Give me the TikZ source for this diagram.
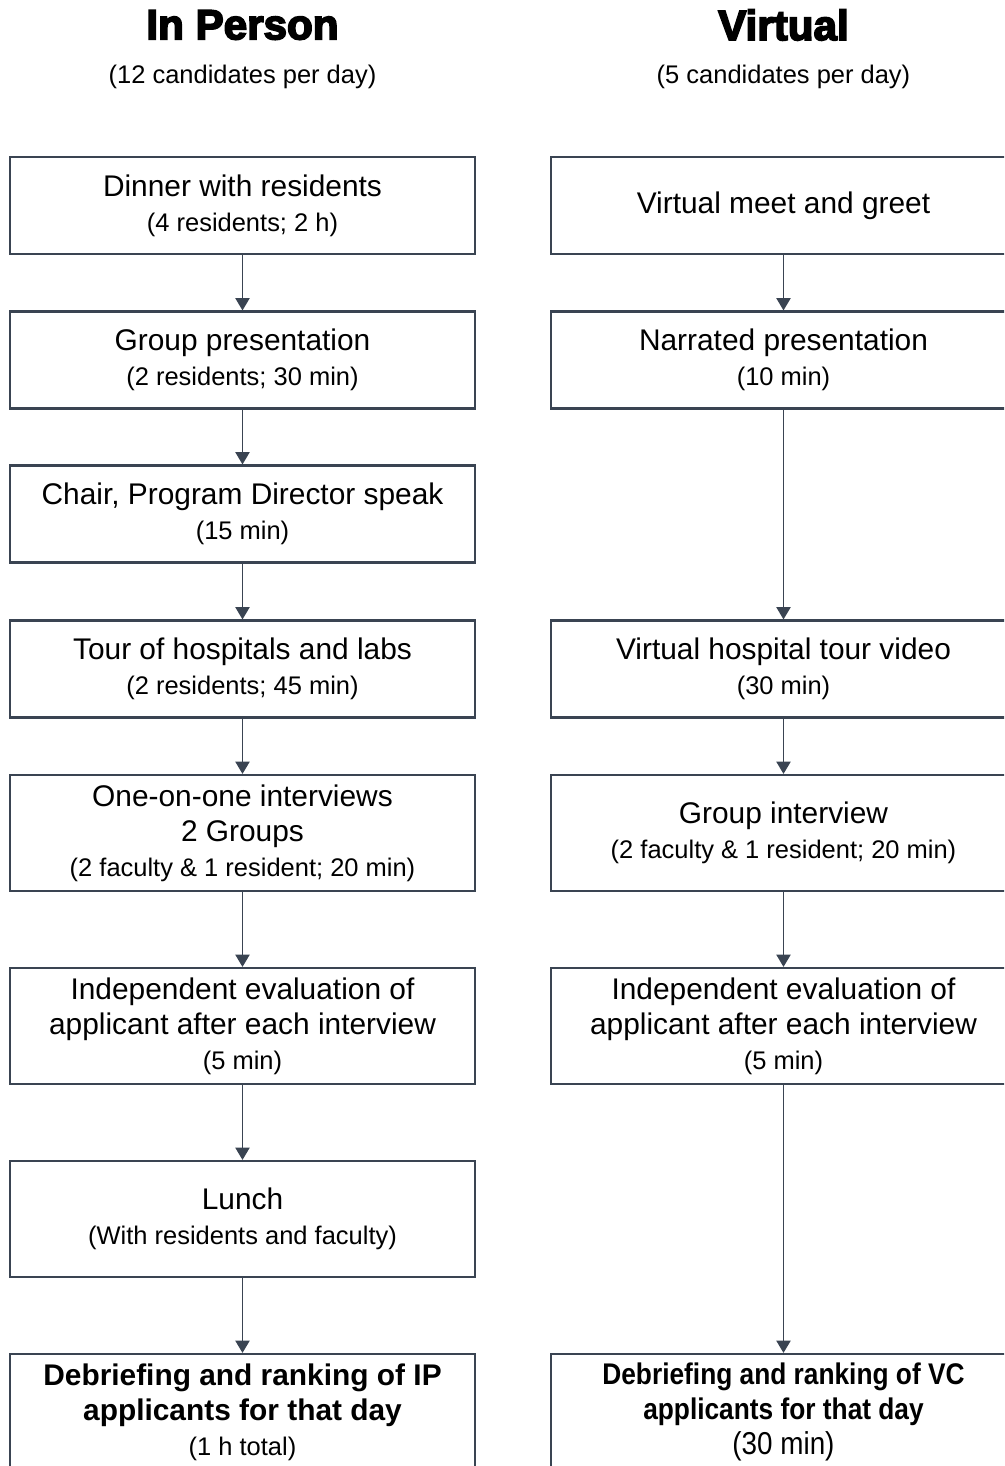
\documentclass[tikz,border=0pt]{standalone}
\usepackage{fontspec}
\setmainfont{Liberation Sans}
\newfontfamily\headfont{Liberation Sans Bold}[FakeBold=4]
\newfontfamily\narrowfont{Liberation Sans}[FakeStretch=0.88]
\usetikzlibrary{arrows.meta,positioning}
\definecolor{slate}{RGB}{58,68,82}
\newcommand{\subline}[1]{{\fontsize{14.5}{20}\selectfont #1}}

\begin{document}
\begin{tikzpicture}[
  block/.style={rectangle, draw=slate, line width=1.2pt, minimum width=9.3cm, minimum height=1.94cm,
    align=center, inner sep=0pt, font=\fontsize{17}{20}\selectfont},
  tall/.style={block, minimum height=2.32cm},
  head/.style={font=\headfont\fontsize{24}{28}\selectfont},
  count/.style={font=\fontsize{14.5}{18}\selectfont},
  arr/.style={-{Triangle[width=8pt,length=7pt]}, draw=slate, fill=slate, line width=1.1pt},
  node distance=3.09cm
]
\useasboundingbox (0,0) rectangle (20.08,-29.32);
\clip (0,0) rectangle (20.08,-29.32);

% Headings
\node[head] (iphead) at (4.85,-0.5) {In Person};
\node[count, below of=iphead, node distance=1.04cm] (ipcount) {(12 candidates per day)};
\node[head, right of=iphead, node distance=10.82cm] (vchead) {Virtual};
\node[count, below of=vchead, node distance=1.04cm] (vccount) {(5 candidates per day)};

% In person day
\node[block] (ip1) at (4.85,-4.11) {Dinner with residents\\\subline{(4 residents; 2 h)}};
\node[block, below of=ip1] (ip2) {Group presentation\\\subline{(2 residents; 30 min)}};
\node[block, below of=ip2, node distance=3.08cm] (ip3) {Chair, Program Director speak\\\subline{(15 min)}};
\node[block, below of=ip3, node distance=3.1cm] (ip4) {Tour of hospitals and labs\\\subline{(2 residents; 45 min)}};
\node[tall, below of=ip4, node distance=3.28cm] (ip5) {One-on-one interviews\\2 Groups\\\subline{(2 faculty \& 1 resident; 20 min)}};
\node[tall, below of=ip5, node distance=3.86cm] (ip6) {Independent evaluation of\\applicant after each interview\\\subline{(5 min)}};
\node[tall, below of=ip6, node distance=3.86cm] (ip7) {Lunch\\\subline{(With residents and faculty)}};
\node[tall, below of=ip7, node distance=3.86cm] (ip8) {\bfseries Debriefing and ranking of IP\\\bfseries applicants for that day\\\subline{(1 h total)}};

% Virtual day
\node[block, right of=ip1, node distance=10.82cm] (vc1) {Virtual meet and greet};
\node[block, right of=ip2, node distance=10.82cm] (vc2) {Narrated presentation\\\subline{(10 min)}};
\node[block, right of=ip4, node distance=10.82cm] (vc3) {Virtual hospital tour video\\\subline{(30 min)}};
\node[tall, right of=ip5, node distance=10.82cm] (vc4) {Group interview\\\subline{(2 faculty \& 1 resident; 20 min)}};
\node[tall, right of=ip6, node distance=10.82cm] (vc5) {Independent evaluation of\\applicant after each interview\\\subline{(5 min)}};
\node[tall, right of=ip8, node distance=10.82cm] (vc6) {\narrowfont\bfseries Debriefing and ranking of VC\\\narrowfont\bfseries applicants for that day\\{\narrowfont\fontsize{18}{20}\selectfont (30 min)}};

% Arrows
\draw[arr] (ip1) -- (ip2);
\draw[arr] (ip2) -- (ip3);
\draw[arr] (ip3) -- (ip4);
\draw[arr] (ip4) -- (ip5);
\draw[arr] (ip5) -- (ip6);
\draw[arr] (ip6) -- (ip7);
\draw[arr] (ip7) -- (ip8);
\draw[arr] (vc1) -- (vc2);
\draw[arr] (vc2) -- (vc3);
\draw[arr] (vc3) -- (vc4);
\draw[arr] (vc4) -- (vc5);
\draw[arr] (vc5) -- (vc6);

\end{tikzpicture}
\end{document}
